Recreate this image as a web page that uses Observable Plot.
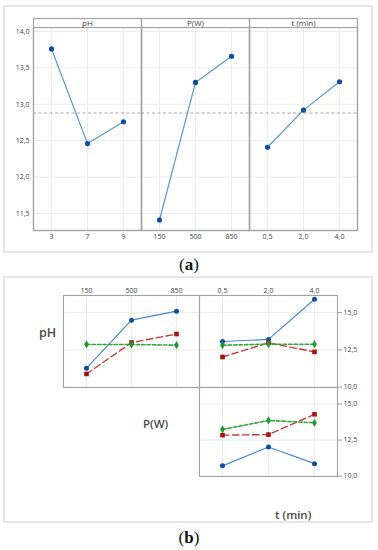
<!DOCTYPE html>
<html><head><meta charset="utf-8">
<script src="https://cdn.jsdelivr.net/npm/d3@7"></script>
<script src="https://cdn.jsdelivr.net/npm/@observablehq/plot@0.6"></script>
<style>
html,body{margin:0;padding:0;background:#fff;}
#root{position:relative;width:378px;height:550px;overflow:hidden;font-family:"Open Sans",sans-serif;}
.box{position:absolute;border:2px solid #e6e6e6;box-sizing:border-box;}
.abs{position:absolute;}
.cap{position:absolute;left:0;width:378px;text-align:center;font-family:"Liberation Serif",serif;font-size:17px;color:#111;line-height:1;}
.row{position:absolute;font-family:"Open Sans",sans-serif;font-weight:600;color:#4a4a4a;white-space:nowrap;line-height:1;transform:translateY(-50%);}
</style></head><body>
<div id="root">
  <div class="box" style="left:3px;top:5px;width:370px;height:248px"></div>
  <div class="box" style="left:3px;top:276px;width:370px;height:247px"></div>
  <div id="a" class="abs" style="left:0;top:0"></div>
  <div class="cap" style="top:256px">(<b>a</b>)</div>
  <div id="pA" class="abs" style="left:40px;top:280px"></div>
  <div id="pB" class="abs" style="left:190px;top:280px"></div>
  <div id="pC" class="abs" style="left:190px;top:384px"></div>
  <div class="row" style="left:39px;top:333px;font-size:12.5px">pH</div>
  <div class="row" style="left:143px;top:424px;font-size:11.5px">P(W)</div>
  <div class="row" style="left:275px;top:515px;font-size:11.5px">t (min)</div>
  <div class="cap" style="top:529px">(<b>b</b>)</div>
</div>
<script>
// ---------- data ----------
const factors = ["pH", "P(W)", "t (min)"];
const pHLevels = ["3", "7", "9"];
const powerLevels = ["150", "500", "850"];
const timeLevels = ["0,5", "2,0", "4,0"];

// main effects (a)
const mainPH = [13.76, 12.46, 12.76];
const mainP = [11.41, 13.30, 13.66];
const mainT = [12.41, 12.92, 13.31];
const grandMean = 12.88;
const yTicksMain = [11.5, 12.0, 12.5, 13.0, 13.5, 14.0];

// interactions (b)
const pH3_byP = [11.27, 14.49, 15.10];
const pH7_byP = [10.88, 12.99, 13.56];
const pH9_byP = [12.86, 12.86, 12.81];
const pH3_byT = [13.06, 13.20, 15.90];
const pH7_byT = [12.02, 12.97, 12.36];
const pH9_byT = [12.81, 12.88, 12.88];
const P150_byT = [10.71, 12.02, 10.86];
const P500_byT = [12.84, 12.88, 14.29];
const P850_byT = [13.24, 13.86, 13.70];
const yTicksInter = [10.0, 12.5, 15.0];

// ---------- helpers ----------
const fmt = v => v.toFixed(1).replace(".", ",");
const mainLevels = [pHLevels, powerLevels, timeLevels];
const mainMeans = [mainPH, mainP, mainT];

const mainRows = [];
factors.forEach((f, k) => mainMeans[k].forEach((v, i) => mainRows.push({factor: f, idx: i, value: v})));
const tickRows = [];
factors.forEach((f, k) => mainLevels[k].forEach((l, i) => tickRows.push({factor: f, idx: i, label: l})));

const gridColor = "#ececec";
const frameColor = "#a3a3a3";

// ---------- (a) main effects ----------
const chartA = Plot.plot({
  width: 378, height: 252,
  marginLeft: 33, marginRight: 21, marginTop: 27, marginBottom: 22,
  style: {fontFamily: "Open Sans", fontSize: "7px", color: "#555", background: "transparent", overflow: "visible"},
  fx: {domain: factors, padding: 0},
  x: {type: "point", domain: [0, 1, 2], padding: 0.5, axis: null},
  y: {domain: [11.266, 14.055]},
  marks: [
    Plot.gridX([0, 1, 2], {stroke: gridColor, strokeOpacity: 1}),
    Plot.gridY(yTicksMain, {stroke: gridColor, strokeOpacity: 1}),
    Plot.ruleY([grandMean], {stroke: "#9a9a9a", strokeWidth: 0.9, strokeDasharray: "3,2.5"}),
    Plot.line(mainRows, {fx: "factor", x: "idx", y: "value", stroke: "#5a96d2", strokeWidth: 1.2}),
    Plot.dot(mainRows, {fx: "factor", x: "idx", y: "value", fill: "#0b4ea2", r: 2.6}),
    Plot.frame({stroke: frameColor, strokeWidth: 1.2}),
    Plot.frame({stroke: frameColor, strokeWidth: 1.2, insetTop: -9}),
    Plot.axisFx({anchor: "top", label: null, tickSize: 0, tickPadding: 2, fontSize: 8, fill: "#444"}),
    Plot.axisY(yTicksMain, {anchor: "left", label: null, tickSize: 0, tickPadding: 4, tickFormat: fmt, fill: "#444"}),
    Plot.text(tickRows, {fx: "factor", x: "idx", text: "label", frameAnchor: "bottom", dy: 8, fill: "#444"})
  ]
});
document.getElementById("a").appendChild(chartA);

// ---------- (b) interaction panels ----------
const seriesStyles = [
  {stroke: "#4a8ad0", dash: null, width: 1.2, fill: "#0b4ea2", symbol: "circle", r: 2.5},
  {stroke: "#c23b3b", dash: "6.5,3.5", width: 1.4, fill: "#a31313", symbol: "square", r: 2.6},
  {stroke: "#2eaa3e", dash: "3.5,2", width: 1.6, fill: "#1f9a2f", symbol: "diamond", r: 2.5}
];

function interPanel(seriesList, xLevels, o) {
  const marks = [
    Plot.gridX(xLevels, {stroke: gridColor, strokeOpacity: 1}),
    Plot.gridY(yTicksInter, {stroke: gridColor, strokeOpacity: 1})
  ];
  seriesList.forEach((vals, k) => {
    const rows = vals.map((v, i) => ({x: xLevels[i], value: v}));
    const s = seriesStyles[k];
    marks.push(Plot.line(rows, {x: "x", y: "value", stroke: s.stroke, strokeWidth: s.width, strokeDasharray: s.dash}));
  });
  seriesList.forEach((vals, k) => {
    const rows = vals.map((v, i) => ({x: xLevels[i], value: v}));
    const s = seriesStyles[k];
    marks.push(Plot.dot(rows, {x: "x", y: "value", fill: s.fill, symbol: s.symbol, r: s.r}));
  });
  marks.push(Plot.frame({stroke: frameColor, strokeWidth: 1.1}));
  if (o.top) marks.push(Plot.axisX({anchor: "top", label: null, tickSize: 0, tickPadding: 3, fill: "#444"}));
  if (o.right) marks.push(Plot.axisY(yTicksInter, {anchor: "right", label: null, tickSize: 4, tickPadding: 2, tickFormat: fmt, fill: "#444", stroke: "#999"}));
  return Plot.plot({
    width: o.width, height: o.height,
    marginLeft: o.ml, marginRight: o.mr, marginTop: o.mt, marginBottom: o.mb,
    style: {fontFamily: "Open Sans", fontSize: "7px", color: "#555", background: "transparent", overflow: "visible"},
    x: {type: "point", domain: xLevels, padding: 0.5, axis: null},
    y: {domain: [9.97, 16.15], axis: null},
    marks
  });
}

document.getElementById("pA").appendChild(
  interPanel([pH3_byP, pH7_byP, pH9_byP], powerLevels, {width: 165, height: 110, ml: 23, mr: 6, mt: 15, mb: 3, top: true, right: false}));
document.getElementById("pB").appendChild(
  interPanel([pH3_byT, pH7_byT, pH9_byT], timeLevels, {width: 188, height: 110, ml: 9, mr: 41, mt: 15, mb: 3, top: true, right: true}));
document.getElementById("pC").appendChild(
  interPanel([P150_byT, P500_byT, P850_byT], timeLevels, {width: 188, height: 100, ml: 9, mr: 41, mt: 3, mb: 8, top: false, right: true}));
</script>
</body></html>
